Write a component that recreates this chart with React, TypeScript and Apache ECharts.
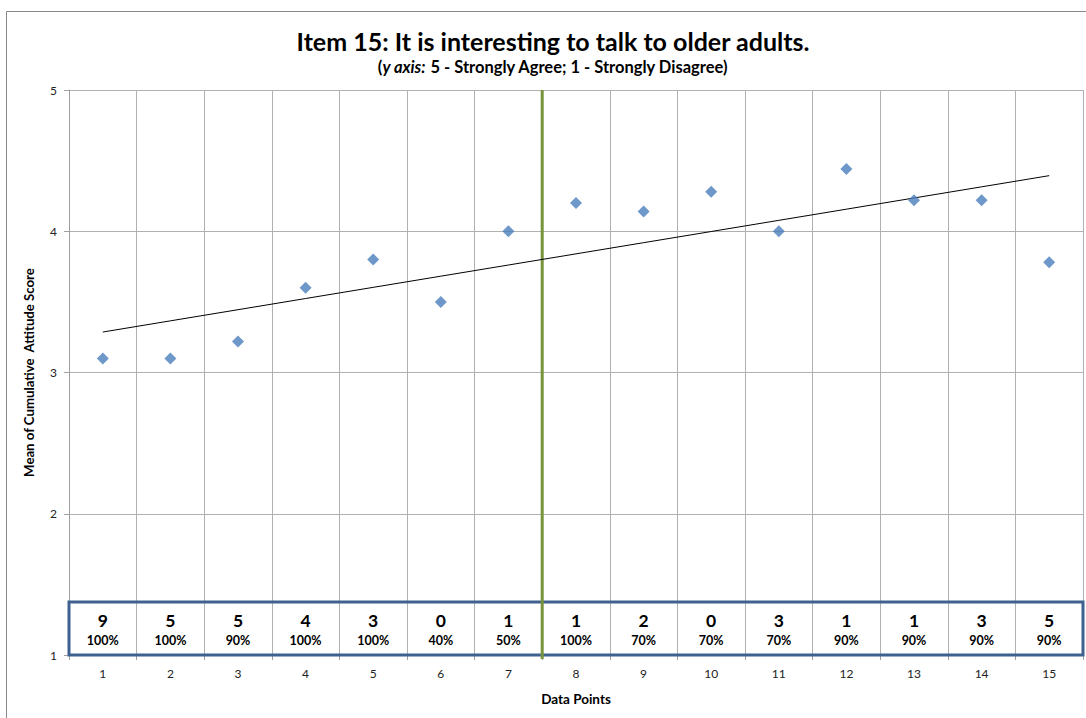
import React, { useEffect, useRef } from "react";
import * as echarts from "echarts";

const categories = ["1", "2", "3", "4", "5", "6", "7", "8", "9", "10", "11", "12", "13", "14", "15"];
const meanScores = [3.1, 3.1, 3.22, 3.6, 3.8, 3.5, 4.0, 4.2, 4.14, 4.28, 4.0, 4.44, 4.22, 4.22, 3.78];
const countRow = ["9", "5", "5", "4", "3", "0", "1", "1", "2", "0", "3", "1", "1", "3", "5"];
const percentRow = ["100%", "100%", "90%", "100%", "100%", "40%", "50%", "100%", "70%", "70%", "70%", "90%", "90%", "90%", "90%"];
const phaseChangeAfterIndex = 6; // between data points 7 and 8
const yTicks = { min: 1, max: 5, interval: 1 };

const FONT = "Lato, 'Open Sans', sans-serif";

function trend(values: number[]): number[] {
  const n = values.length;
  const xs = values.map((_, i) => i + 1);
  const mx = xs.reduce((a, b) => a + b, 0) / n;
  const my = values.reduce((a, b) => a + b, 0) / n;
  let sxy = 0, sxx = 0;
  xs.forEach((x, i) => { sxy += (x - mx) * (values[i] - my); sxx += (x - mx) * (x - mx); });
  const slope = sxy / sxx;
  return xs.map((x) => +(my + slope * (x - mx)).toFixed(4));
}

export default function App() {
  const ref = useRef<HTMLDivElement>(null);
  useEffect(() => {
    document.body.style.margin = "0";
    const chart = echarts.init(ref.current!, null, { renderer: "svg" });
    const trendValues = trend(meanScores);
    chart.setOption({
      animation: false,
      textStyle: { fontFamily: FONT },
      grid: { left: 69, right: 3, top: 90, bottom: 63 },
      graphic: [
        { type: "rect", shape: { x: 6.5, y: 11.5, width: 1100, height: 720 }, style: { fill: "none", stroke: "#8a8a8a", lineWidth: 1 }, silent: true, z: -10 },
        { type: "text", x: 553, y: 41, style: { text: "Item 15: It is interesting to talk to older adults.", font: `bold 25px ${FONT}`, fill: "#000", textAlign: "center", textVerticalAlign: "middle" } },
        {
          type: "text", x: 553, y: 67,
          style: {
            text: "{n|(}{i|y axis:}{n| 5 - Strongly Agree; 1 - Strongly Disagree)}",
            textAlign: "center", textVerticalAlign: "middle",
            rich: {
              n: { fontFamily: FONT, fontWeight: "bold", fontSize: 16.5, fill: "#000", color: "#000" },
              i: { fontFamily: FONT, fontWeight: "bold", fontStyle: "italic", fontSize: 16.5, fill: "#000", color: "#000" },
            },
          },
        },
      ],
      xAxis: {
        type: "category",
        data: categories,
        boundaryGap: true,
        name: "Data Points",
        nameLocation: "middle",
        nameGap: 37,
        nameTextStyle: { fontWeight: "bold", fontSize: 13.5, color: "#000", fontFamily: FONT },
        axisLine: { show: true, lineStyle: { color: "#a0a0a0" } },
        axisTick: { show: true, length: 5, lineStyle: { color: "#a0a0a0" } },
        axisLabel: { fontSize: 12, color: "#222", margin: 12, fontFamily: FONT },
        splitLine: { show: true, lineStyle: { color: "#b0b0b0", width: 1 } },
      },
      yAxis: {
        type: "value",
        min: yTicks.min,
        max: yTicks.max,
        interval: yTicks.interval,
        name: "Mean of Cumulative  Attitude Score",
        nameLocation: "middle",
        nameGap: 34,
        nameRotate: 90,
        nameTextStyle: { fontWeight: "bold", fontSize: 13.2, color: "#000", fontFamily: FONT },
        axisLine: { show: true, lineStyle: { color: "#a0a0a0" } },
        axisTick: { show: true, length: 5, lineStyle: { color: "#a0a0a0" } },
        axisLabel: { fontSize: 12, color: "#222", margin: 12, fontFamily: FONT },
        splitLine: { show: true, lineStyle: { color: "#b0b0b0", width: 1 } },
      },
      series: [
        {
          type: "custom",
          clip: false,
          z: 1,
          data: [[0]],
          renderItem: (params: any, api: any) => {
            const w = api.size([1, 0])[0];
            const p0 = api.coord([0, 1]);
            const p1 = api.coord([categories.length - 1, 1.375]);
            return {
              type: "rect",
              shape: { x: p0[0] - w / 2, y: p1[1], width: p1[0] - p0[0] + w, height: p0[1] - p1[1] },
              style: { fill: "none", stroke: "#3e6190", lineWidth: 3 },
            };
          },
        },
        {
          type: "custom",
          clip: false,
          z: 2,
          data: [[phaseChangeAfterIndex]],
          renderItem: (params: any, api: any) => {
            const w = api.size([1, 0])[0];
            const top = api.coord([phaseChangeAfterIndex, yTicks.max]);
            const bot = api.coord([phaseChangeAfterIndex, yTicks.min]);
            const x = top[0] + w / 2;
            return {
              type: "line",
              shape: { x1: x, y1: top[1], x2: x, y2: bot[1] + 4 },
              style: { stroke: "#77933c", lineWidth: 3 },
            };
          },
        },
        {
          type: "custom",
          z: 3,
          data: categories.map((_, i) => [i]),
          renderItem: (params: any, api: any) => {
            const i = api.value(0);
            const c1 = api.coord([i, 1.245]);
            const c2 = api.coord([i, 1.1]);
            return {
              type: "group",
              children: [
                { type: "text", x: c1[0], y: c1[1], style: { text: countRow[i], font: `bold 17.5px ${FONT}`, fill: "#000", textAlign: "center", textVerticalAlign: "middle" } },
                { type: "text", x: c2[0], y: c2[1], style: { text: percentRow[i], font: `bold 12.5px ${FONT}`, fill: "#000", textAlign: "center", textVerticalAlign: "middle" } },
              ],
            };
          },
        },
        {
          type: "line",
          data: trendValues,
          symbol: "none",
          lineStyle: { color: "#000", width: 1 },
          z: 4,
        },
        {
          type: "scatter",
          data: meanScores,
          symbol: "diamond",
          symbolSize: 12,
          itemStyle: { color: "#4a7ebb" },
          z: 5,
        },
      ],
    });
    return () => chart.dispose();
  }, []);
  return <div ref={ref} style={{ width: 1086, height: 718 }} />;
}
